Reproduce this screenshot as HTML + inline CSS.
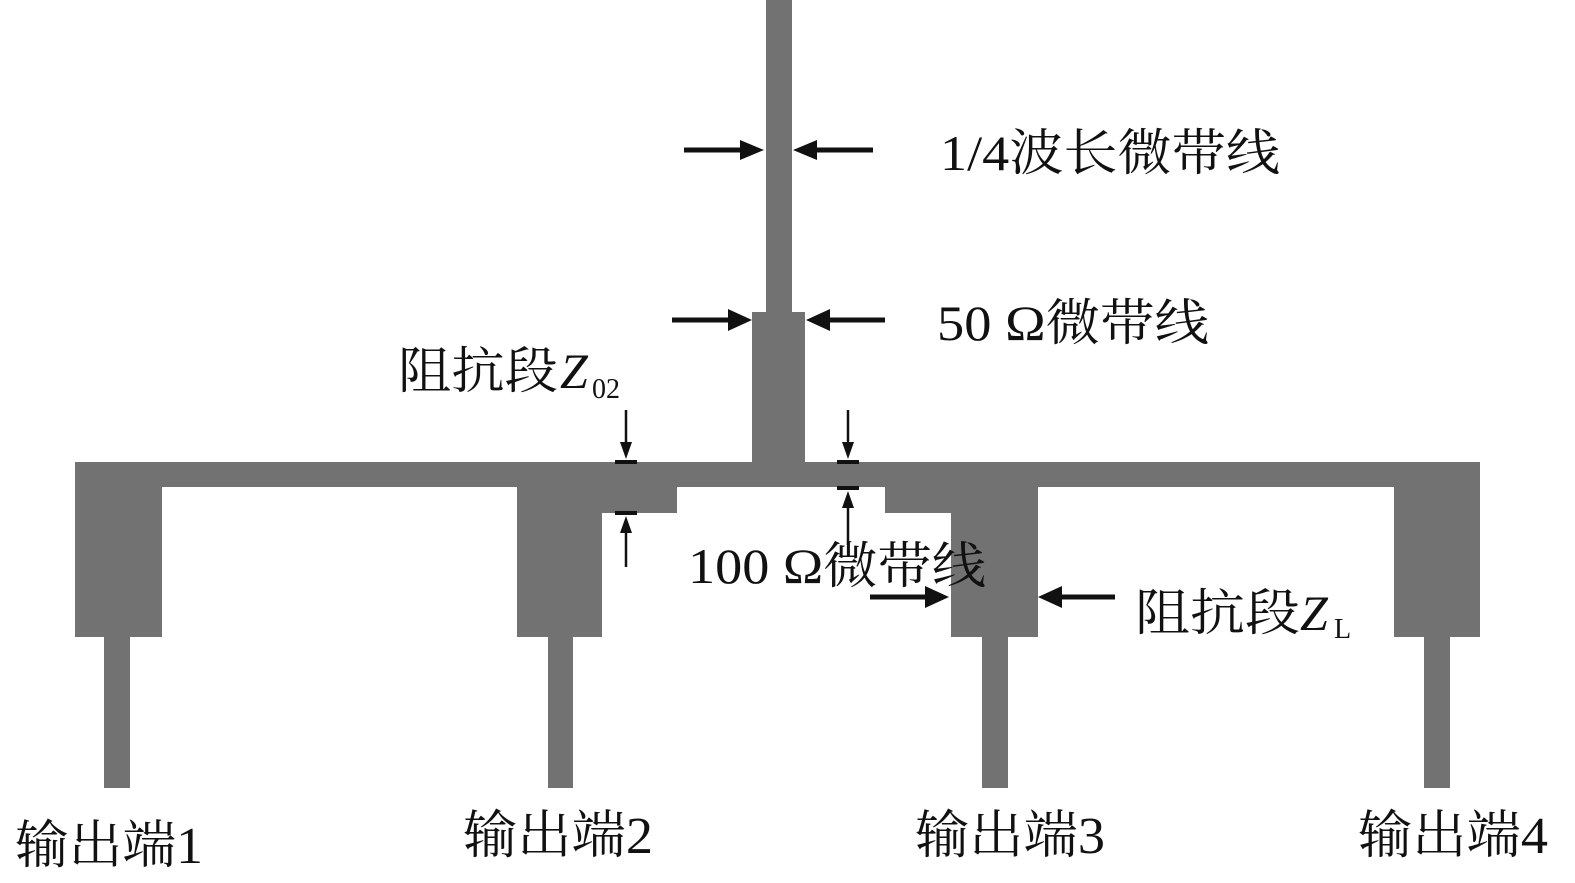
<!DOCTYPE html>
<html><head><meta charset="utf-8"><style>
html,body{margin:0;padding:0;background:#fff;}
svg{display:block;}
text{font-family:"Liberation Serif","Noto Serif CJK SC",serif;fill:#111;}
</style></head><body>
<svg width="1575" height="883" viewBox="0 0 1575 883" xmlns="http://www.w3.org/2000/svg">
<g fill="#737273">
<rect x="766" y="0" width="26" height="314"/>
<rect x="752" y="312" width="53" height="152"/>
<rect x="75" y="462" width="1405" height="25"/>
<rect x="75" y="486" width="87" height="151"/>
<rect x="517" y="486" width="85" height="151"/>
<rect x="601" y="486" width="76" height="27"/>
<rect x="951" y="486" width="87" height="151"/>
<rect x="885" y="486" width="67" height="27"/>
<rect x="1394" y="486" width="86" height="151"/>
<rect x="104" y="636" width="26" height="152"/>
<rect x="548" y="636" width="25" height="152"/>
<rect x="982" y="636" width="26" height="152"/>
<rect x="1424" y="636" width="26" height="152"/>
</g>
<g stroke="#111" fill="#111">
<line x1="684" y1="150" x2="745" y2="150" stroke-width="5"/>
<path d="M740,140 L764,150 L740,160 z" stroke="none"/>
<line x1="873" y1="150" x2="812" y2="150" stroke-width="5"/>
<path d="M817,140 L793,150 L817,160 z" stroke="none"/>
<line x1="672" y1="320" x2="733" y2="320" stroke-width="5"/>
<path d="M728,309 L752,320 L728,331 z" stroke="none"/>
<line x1="885" y1="320" x2="825" y2="320" stroke-width="5"/>
<path d="M830,309 L806,320 L830,331 z" stroke="none"/>
<line x1="626" y1="410" x2="626" y2="445" stroke-width="2.5"/>
<path d="M620,442 L626,459 L632,442 z" stroke="none"/>
<rect x="615" y="460" width="22" height="4" stroke="none"/>
<rect x="615" y="511" width="22" height="4" stroke="none"/>
<line x1="626" y1="567" x2="626" y2="530" stroke-width="2.5"/>
<path d="M620,533 L626,516 L632,533 z" stroke="none"/>
<line x1="848" y1="410" x2="848" y2="445" stroke-width="2.5"/>
<path d="M842,442 L848,459 L854,442 z" stroke="none"/>
<rect x="837" y="460" width="22" height="4" stroke="none"/>
<rect x="837" y="486" width="22" height="4" stroke="none"/>
<line x1="848" y1="545" x2="848" y2="505" stroke-width="2.5"/>
<path d="M842,508 L848,491 L854,508 z" stroke="none"/>
<line x1="870" y1="597" x2="930" y2="597" stroke-width="5"/>
<path d="M925,586 L949,597 L925,608 z" stroke="none"/>
<line x1="1115" y1="597" x2="1057" y2="597" stroke-width="5"/>
<path d="M1062,586 L1038,597 L1062,608 z" stroke="none"/>
</g>
<text x="940" y="170" font-size="50" textLength="340" lengthAdjust="spacingAndGlyphs">1/4波长微带线</text>
<text x="937" y="340" font-size="50" textLength="272" lengthAdjust="spacingAndGlyphs">50 Ω微带线</text>
<text x="398" y="388" font-size="50" textLength="160" lengthAdjust="spacingAndGlyphs">阻抗段</text>
<text x="560" y="388" font-size="50" font-style="italic">Z</text>
<text x="592" y="398" font-size="28">02</text>
<text x="688" y="583" font-size="50" textLength="298" lengthAdjust="spacingAndGlyphs">100 Ω微带线</text>
<text x="1135" y="630" font-size="50" textLength="165" lengthAdjust="spacingAndGlyphs">阻抗段</text>
<text x="1300" y="630" font-size="50" font-style="italic">Z</text>
<text x="1334" y="638" font-size="28">L</text>
<text x="15" y="863" font-size="52" textLength="188" lengthAdjust="spacingAndGlyphs">输出端1</text>
<text x="463" y="853" font-size="52" textLength="190" lengthAdjust="spacingAndGlyphs">输出端2</text>
<text x="915" y="853" font-size="52" textLength="190" lengthAdjust="spacingAndGlyphs">输出端3</text>
<text x="1358" y="853" font-size="52" textLength="190" lengthAdjust="spacingAndGlyphs">输出端4</text>
</svg>
</body></html>
